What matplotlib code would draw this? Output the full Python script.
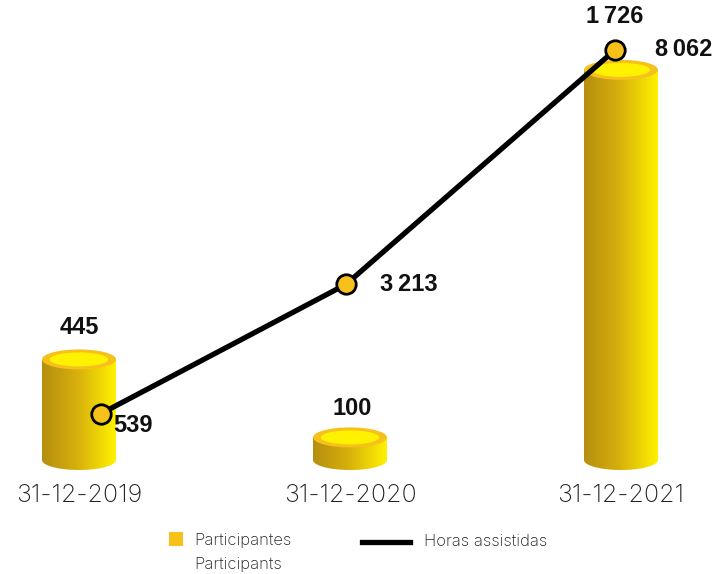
import numpy as np
import matplotlib.pyplot as plt
from matplotlib.patches import Ellipse, PathPatch, Rectangle
from matplotlib.path import Path
from matplotlib.colors import LinearSegmentedColormap
from matplotlib.lines import Line2D

plt.rcParams['font.family'] = ['Inter', 'DejaVu Sans']
num_font = ['Liberation Sans', 'DejaVu Sans']

dates = ['31-12-2019', '31-12-2020', '31-12-2021']
participantes = [445, 100, 1726]
horas = [539, 3213, 8062]

bar_labels = ['445', '100', '1\u2009726']
line_labels = ['539', '3\u2009213', '8\u2009062']

# label offsets in pixels (dx, dy)
bar_label_off = [(0, 32), (2, 29), (-6, 53)]
line_label_off = [(12, -12), (34, 0), (40, 0)]
line_shift = [0.081, -0.015, -0.022]

W, H = 718, 574
fig = plt.figure(figsize=(W / 100, H / 100), dpi=100)
ax = fig.add_axes([0, 114 / H, 1, 460 / H])
step = 271.0
ax.set_xlim(-79 / step, (W - 79) / step)
ax.set_ylim(0, 2035)
px_y = 2035 / 460.0  # data units per pixel
px_x = 1 / step

for s in ax.spines.values():
    s.set_visible(False)
ax.set_yticks([])
x = np.arange(len(dates))
ax.set_xticks(x)
ax.set_xticklabels(dates, fontsize=18, fontweight='light', color='#222222')
ax.tick_params(axis='x', length=0, pad=17)

cmap = LinearSegmentedColormap.from_list('gold', ['#b58e10', '#d9b20c', '#fff200'])
bw = 74 * px_x
eh = 20 * px_y

for xc, val in zip(x, participantes):
    x0, x1 = xc - bw / 2, xc + bw / 2
    t = np.linspace(np.pi, 2 * np.pi, 60)
    arc = np.column_stack([xc + bw / 2 * np.cos(t), eh / 2 * np.sin(t)])
    verts = np.vstack([[x0, val], [x0, 0], arc, [x1, 0], [x1, val], [x0, val]])
    codes = [Path.MOVETO] + [Path.LINETO] * (len(verts) - 2) + [Path.CLOSEPOLY]
    body = PathPatch(Path(verts, codes), facecolor='none', edgecolor='none', clip_on=False)
    ax.add_patch(body)
    img = ax.imshow(np.linspace(0, 1, 256)[None, :], cmap=cmap, aspect='auto',
                    extent=[x0, x1, -eh / 2, val], interpolation='bicubic', zorder=2)
    img.set_clip_box(fig.bbox)
    img.set_clip_path(body)
    ax.add_patch(Ellipse((xc, val), bw, eh, facecolor='#f7c11c', edgecolor='none', zorder=3, clip_on=False))
    ax.add_patch(Ellipse((xc, val), bw * 0.79, eh * 0.7, facecolor='#fff200', edgecolor='none', zorder=4, clip_on=False))

for xc, val, lab, (dx, dy) in zip(x, participantes, bar_labels, bar_label_off):
    ax.annotate(lab, (xc, val), xytext=(dx * 0.72, dy * 0.72), textcoords='offset points',
                ha='center', va='center', fontsize=17, fontweight='bold', color='#111111',
                family=num_font)

ax2 = ax.twinx()
ax2.set_ylim(-420, 9096)
ax2.set_yticks([])
for s in ax2.spines.values():
    s.set_visible(False)
lx = x + np.array(line_shift)
ax2.plot(lx, horas, color='black', linewidth=3.8, zorder=5, solid_capstyle='butt')
ax2.plot(lx, horas, linestyle='none', marker='o', markersize=14, markerfacecolor='#f7c11c',
         markeredgecolor='black', markeredgewidth=2, zorder=6)
for xc, val, lab, (dx, dy) in zip(lx, horas, line_labels, line_label_off):
    ax2.annotate(lab, (xc, val), xytext=(dx * 0.72, dy * 0.72), textcoords='offset points',
                 ha='left', va='center', fontsize=17, fontweight='bold', color='#111111',
                 family=num_font)

# legend drawn in figure pixels
fig.add_artist(Rectangle((169 / W, 1 - 546 / H), 14 / W, 14 / H, transform=fig.transFigure,
                         facecolor='#f7c11c', edgecolor='none'))
fig.text(194 / W, 1 - 541 / H, 'Participantes', fontsize=12, fontweight='light',
         va='center', ha='left', color='#222222')
fig.text(194 / W, 1 - 564 / H, 'Participants', fontsize=12, fontweight='light',
         va='center', ha='left', color='#222222')
fig.add_artist(Line2D([362 / W, 410 / W], [1 - 542 / H, 1 - 542 / H], transform=fig.transFigure,
                      color='black', linewidth=3.8))
fig.text(424 / W, 1 - 541 / H, 'Horas assistidas', fontsize=12, fontweight='light',
         va='center', ha='left', color='#222222')

fig.savefig('out.png', dpi=100)
